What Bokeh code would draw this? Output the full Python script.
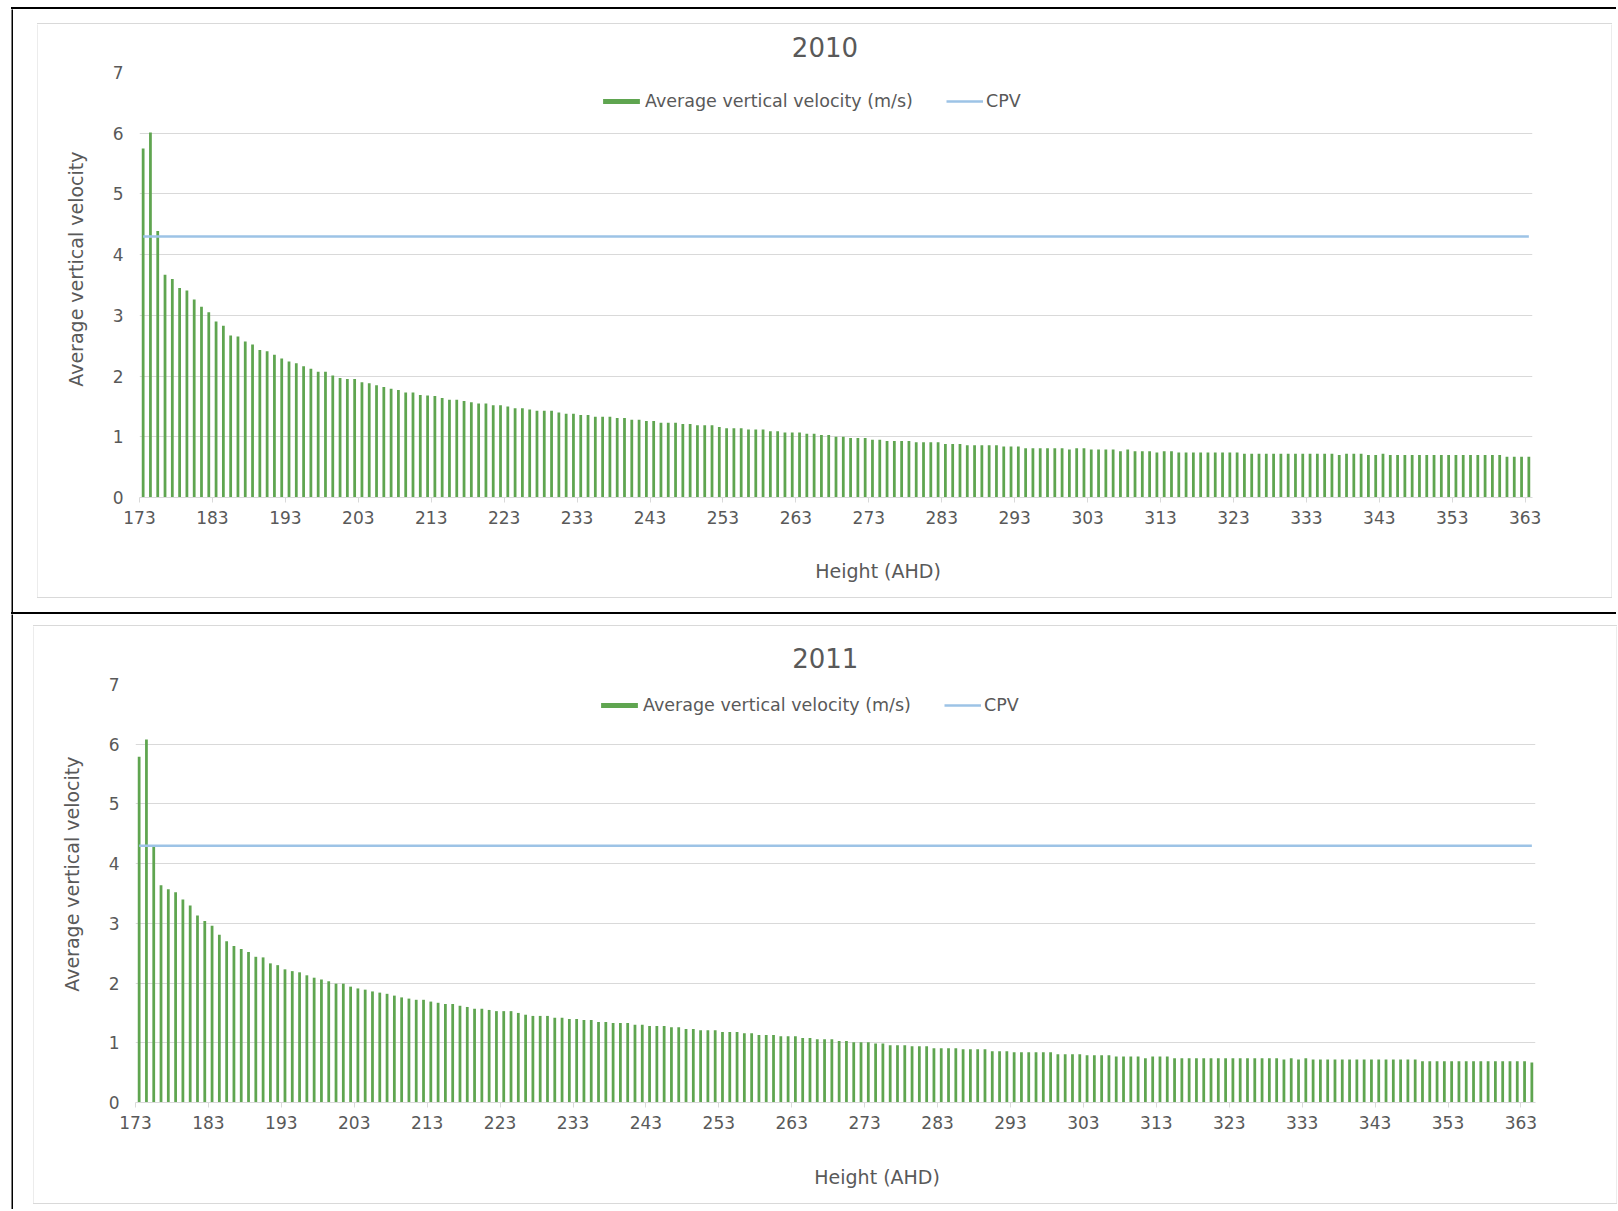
import math
from bokeh.plotting import figure
from bokeh.models import (Range1d, FixedTicker, ColumnDataSource, Legend, LegendItem,
                          Label, Spacer, CustomJSTickFormatter, Title)
from bokeh.layouts import column, row
from bokeh.embed import file_html
from bokeh.resources import INLINE

# ---------------- data ----------------
heights_2010 = list(range(173, 364))   # Height (AHD), one bar per metre
velocity_2010 = [
    5.75, 6.01, 4.39, 3.67, 3.60, 3.45, 3.41, 3.26, 3.14, 3.05,
    2.90, 2.83, 2.67, 2.65, 2.57, 2.52, 2.43, 2.41, 2.35, 2.29,
    2.24, 2.21, 2.16, 2.12, 2.07, 2.07, 2.01, 1.97, 1.95, 1.95,
    1.90, 1.88, 1.85, 1.82, 1.79, 1.77, 1.73, 1.73, 1.69, 1.68,
    1.67, 1.64, 1.61, 1.61, 1.59, 1.57, 1.55, 1.55, 1.52, 1.52,
    1.50, 1.47, 1.47, 1.45, 1.43, 1.43, 1.43, 1.40, 1.38, 1.38,
    1.36, 1.36, 1.33, 1.33, 1.33, 1.31, 1.31, 1.28, 1.28, 1.26,
    1.26, 1.23, 1.23, 1.23, 1.21, 1.21, 1.19, 1.19, 1.19, 1.16,
    1.14, 1.14, 1.14, 1.12, 1.12, 1.12, 1.09, 1.09, 1.07, 1.07,
    1.07, 1.05, 1.05, 1.03, 1.03, 1.00, 1.00, 0.98, 0.98, 0.98,
    0.95, 0.95, 0.93, 0.93, 0.93, 0.93, 0.91, 0.91, 0.91, 0.91,
    0.88, 0.88, 0.88, 0.86, 0.86, 0.86, 0.86, 0.86, 0.84, 0.84,
    0.84, 0.81, 0.81, 0.81, 0.81, 0.81, 0.81, 0.79, 0.81, 0.81,
    0.79, 0.79, 0.79, 0.79, 0.76, 0.79, 0.76, 0.76, 0.76, 0.74,
    0.76, 0.76, 0.74, 0.74, 0.74, 0.74, 0.74, 0.74, 0.74, 0.74,
    0.74, 0.72, 0.72, 0.72, 0.72, 0.72, 0.72, 0.72, 0.72, 0.72,
    0.72, 0.72, 0.72, 0.72, 0.70, 0.72, 0.72, 0.72, 0.70, 0.70,
    0.72, 0.70, 0.70, 0.70, 0.70, 0.70, 0.70, 0.70, 0.70, 0.70,
    0.70, 0.70, 0.70, 0.70, 0.70, 0.70, 0.70, 0.67, 0.67, 0.67,
    0.67,
]
cpv_2010 = 4.3

heights_2011 = list(range(173, 365))
velocity_2011 = [
    5.79, 6.08, 4.29, 3.64, 3.57, 3.52, 3.40, 3.30, 3.13, 3.04,
    2.96, 2.81, 2.70, 2.62, 2.57, 2.52, 2.44, 2.43, 2.33, 2.30,
    2.23, 2.20, 2.18, 2.13, 2.09, 2.06, 2.03, 1.99, 1.99, 1.94,
    1.91, 1.89, 1.86, 1.84, 1.82, 1.79, 1.76, 1.74, 1.72, 1.72,
    1.69, 1.67, 1.65, 1.65, 1.62, 1.60, 1.57, 1.57, 1.55, 1.53,
    1.53, 1.53, 1.50, 1.47, 1.45, 1.45, 1.45, 1.42, 1.42, 1.40,
    1.40, 1.38, 1.38, 1.35, 1.35, 1.33, 1.33, 1.33, 1.30, 1.30,
    1.28, 1.28, 1.28, 1.26, 1.26, 1.23, 1.23, 1.21, 1.21, 1.21,
    1.18, 1.18, 1.18, 1.16, 1.16, 1.13, 1.13, 1.13, 1.11, 1.11,
    1.11, 1.08, 1.08, 1.06, 1.06, 1.06, 1.03, 1.03, 1.01, 1.01,
    1.01, 0.99, 0.99, 0.96, 0.96, 0.96, 0.94, 0.94, 0.94, 0.91,
    0.91, 0.91, 0.91, 0.89, 0.89, 0.89, 0.89, 0.86, 0.86, 0.86,
    0.84, 0.84, 0.84, 0.84, 0.84, 0.84, 0.81, 0.81, 0.81, 0.81,
    0.79, 0.79, 0.79, 0.79, 0.77, 0.77, 0.77, 0.77, 0.74, 0.77,
    0.77, 0.77, 0.74, 0.74, 0.74, 0.74, 0.74, 0.74, 0.74, 0.74,
    0.74, 0.74, 0.74, 0.74, 0.74, 0.74, 0.74, 0.72, 0.74, 0.72,
    0.74, 0.72, 0.72, 0.72, 0.72, 0.72, 0.72, 0.72, 0.72, 0.72,
    0.72, 0.72, 0.72, 0.72, 0.72, 0.72, 0.69, 0.69, 0.69, 0.69,
    0.69, 0.69, 0.69, 0.69, 0.69, 0.69, 0.69, 0.69, 0.69, 0.69,
    0.69, 0.67,
]
cpv_2011 = 4.3

y_ticks = [0, 1, 2, 3, 4, 5, 6, 7]
bar_label = "Average vertical velocity (m/s)"
line_label = "CPV"
y_title = "Average vertical velocity"
x_title = "Height (AHD)"

# ---------------- style ----------------
FONT = "DejaVu Sans"
TEXT = "#595959"
GRID = "#D9D9D9"
BOX = "#D9D9D9"
BAR = "#5FA550"
LINE = "#9DC3E6"


def blank(w, h, color="white"):
    f = figure(width=w, height=h, toolbar_location=None, output_backend="svg",
               title=None, x_axis_type=None, y_axis_type=None, min_border=0,
               x_range=Range1d(0, w), y_range=Range1d(h, 0),
               outline_line_color=None, background_fill_color=color,
               border_fill_color=color)
    return f


def hline(w, h, color):
    return Spacer(width=w, height=h, styles={"background-color": color})


def text_strip(w, h, text, cx, cy, size):
    f = blank(w, h)
    f.add_layout(Label(x=cx, y=cy, text=text, text_align="center",
                       text_baseline="middle", text_font=FONT,
                       text_font_size=size, text_color=TEXT))
    return f


def make_chart(heights, vel, cpv, width, height, borders, opts):
    left, right, top, bottom = borders
    p = figure(width=width, height=height, toolbar_location=None, output_backend="svg",
               title=None,
               x_range=Range1d(heights[0] - 0.5, heights[-1] + 0.5),
               y_range=Range1d(y_ticks[0], y_ticks[-1]),
               min_border_left=left, min_border_right=right,
               min_border_top=top, min_border_bottom=bottom,
               outline_line_color=None, background_fill_color="white",
               border_fill_color="white")
    src = ColumnDataSource(dict(h=heights, v=vel, cpv=[cpv] * len(heights)))
    bars = p.vbar(x="h", top="v", bottom=0, width=0.38, source=src,
                  fill_color=BAR, line_color=None)
    cpv_line = p.line(x="h", y="cpv", source=src, line_color=LINE, line_width=2.5)

    xa = p.xaxis[0]
    xa.ticker = FixedTicker(ticks=[h - 0.5 for h in heights[::10]])
    xa.formatter = CustomJSTickFormatter(code="return (tick + 0.5).toFixed(0);")
    xa.axis_line_color = GRID
    xa.major_tick_line_color = GRID
    xa.major_tick_out = 5
    xa.major_tick_in = 0
    xa.minor_tick_line_color = None
    xa.major_label_standoff = 8
    xa.major_label_text_font = FONT
    xa.major_label_text_font_size = "17px"
    xa.major_label_text_color = TEXT

    ya = p.yaxis[0]
    ya.ticker = FixedTicker(ticks=y_ticks)
    ya.axis_line_color = None
    ya.major_tick_line_color = None
    ya.minor_tick_line_color = None
    ya.major_tick_out = 0
    ya.major_tick_in = 0
    ya.major_label_standoff = 16
    ya.major_label_text_font = FONT
    ya.major_label_text_font_size = "17px"
    ya.major_label_text_color = TEXT

    p.xgrid.visible = False
    p.ygrid.ticker = FixedTicker(ticks=y_ticks)
    p.ygrid.grid_line_color = GRID
    p.ygrid.grid_line_width = 1

    # y-axis title (left side panel)
    p.add_layout(Title(text=y_title, align="left", offset=opts["yt_offset"],
                       standoff=opts["yt_standoff"],
                       text_font=FONT, text_font_size="19px",
                       text_font_style="normal", text_color=TEXT), "left")

    common = dict(orientation="horizontal", padding=0, margin=0, spacing=0,
                  border_line_color=None, background_fill_alpha=0,
                  label_text_font=FONT, label_text_font_size="17.5px",
                  label_text_color=TEXT, label_text_baseline="alphabetic",
                  label_height=20, glyph_height=6)
    leg1 = Legend(items=[LegendItem(label=bar_label, renderers=[bars])],
                  location=opts["leg1"], glyph_width=46, label_standoff=1, **common)
    leg2 = Legend(items=[LegendItem(label=line_label, renderers=[cpv_line])],
                  location=opts["leg2"], glyph_width=37, label_standoff=3, **common)
    p.add_layout(leg1)
    p.add_layout(leg2)
    return p


# ---- panel 1 (2010): inner area 1573 x 573 ----
title1 = text_strip(1573, 38, "2010", 774, 22.3, "26px")
chart1 = make_chart(heights_2010, velocity_2010, cpv_2010, 1573, 478,
                    (101, 79, 10, 43),
                    dict(yt_offset=110.8, yt_standoff=45,
                         leg1=(459, 386), leg2=(807, 386)))
xtext1 = text_strip(1573, 57, x_title, 834, 30, "19px")

# ---- panel 2 (2011): inner area 1582 x 577 ----
title2 = text_strip(1582, 47, "2011", 779.5, 31, "26px")
chart2 = make_chart(heights_2011, velocity_2011, cpv_2011, 1582, 467,
                    (101, 81, 11, 38),
                    dict(yt_offset=110.8, yt_standoff=45,
                         leg1=(461, 387), leg2=(809, 387)))
xtext2 = text_strip(1582, 63, x_title, 838, 36.5, "19px")

top_line = row(Spacer(width=11, height=2), hline(1605, 2, "black"))
sep_line = row(Spacer(width=11, height=2), hline(1605, 2, "black"))

panel1 = row(
    Spacer(width=11, height=603), blank(2, 603, "black"), Spacer(width=24, height=603),
    column(Spacer(width=1575, height=14), hline(1575, 1, BOX),
           row(blank(1, 573, BOX), column(title1, chart1, xtext1), blank(1, 573, BOX)),
           hline(1575, 1, BOX), Spacer(width=1575, height=14)))

panel2 = row(
    Spacer(width=11, height=595), blank(2, 595, "black"), Spacer(width=20, height=595),
    column(Spacer(width=1584, height=11), hline(1584, 1, BOX),
           row(blank(1, 577, BOX), column(title2, chart2, xtext2), blank(1, 577, BOX)),
           hline(1584, 1, BOX), Spacer(width=1584, height=5)))

page = column(Spacer(width=11, height=7), top_line, panel1, sep_line, panel2)

open("out.html", "w").write(file_html(page, INLINE))
